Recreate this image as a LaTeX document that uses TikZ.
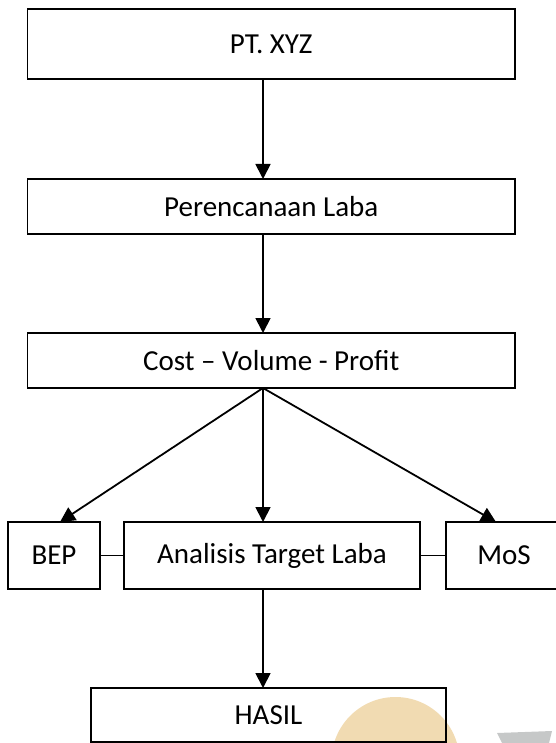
\documentclass[tikz,border=0pt]{standalone}
\usepackage{fontspec}
\setmainfont{Carlito}
\usetikzlibrary{arrows.meta}
\definecolor{wmorange}{RGB}{241,219,178}
\definecolor{wmgray}{RGB}{198,200,200}
\begin{document}
\begin{tikzpicture}[x=1pt,y=-1pt,
  box/.style={draw, line width=1.8pt, rectangle, inner sep=0pt, outer sep=0pt,
              font=\fontsize{29}{34}\selectfont, text=black},
  arr/.style={line width=1.8pt, -{Triangle[length=15pt,width=15pt]}},
  link/.style={line width=1.6pt}]
\useasboundingbox (0,0) rectangle (555,743);
% watermark fragments
\fill[wmorange] (395.5,761) circle (64);
\fill[wmgray] (497,733) -- (552,731) -- (549,743) -- (502,743) -- cycle;
% nodes
\node[box, minimum width=487.5pt, minimum height=70pt] (b1) at (271.25,44.2) {PT. XYZ};
\node[box, minimum width=487.5pt, minimum height=55pt] (b2) at (271.25,206.5) {Perencanaan Laba};
\node[box, minimum width=487.5pt, minimum height=55pt] (b3) at (271.25,360.5) {Cost – Volume - Profit};
\node[box, minimum width=92pt, minimum height=67pt] (bep) at (54,555.5) {BEP};
\node[box, minimum width=296pt, minimum height=67pt] (atl) at (272,555.5) {Analisis Target Laba};
\node[box, minimum width=116pt, minimum height=67pt] (mos) at (504,555.5) {MoS};
\node[box, minimum width=355pt, minimum height=54pt] (hasil) at (268.5,715) {HASIL};
\coordinate (ax) at (263,0);
% connectors
\draw[arr] (b1.south -| ax) -- (b2.north -| ax);
\draw[arr] (b2.south -| ax) -- (b3.north -| ax);
\draw[arr] (b3.south -| ax) -- ([xshift=6pt]bep.north);
\draw[arr] (b3.south -| ax) -- (atl.north -| ax);
\draw[arr] (b3.south -| ax) -- ([xshift=-8pt]mos.north);
\draw[link] (bep.east) -- (atl.west);
\draw[link] (atl.east) -- (mos.west);
\draw[arr] (atl.south -| ax) -- (hasil.north -| ax);
\end{tikzpicture}
\end{document}
